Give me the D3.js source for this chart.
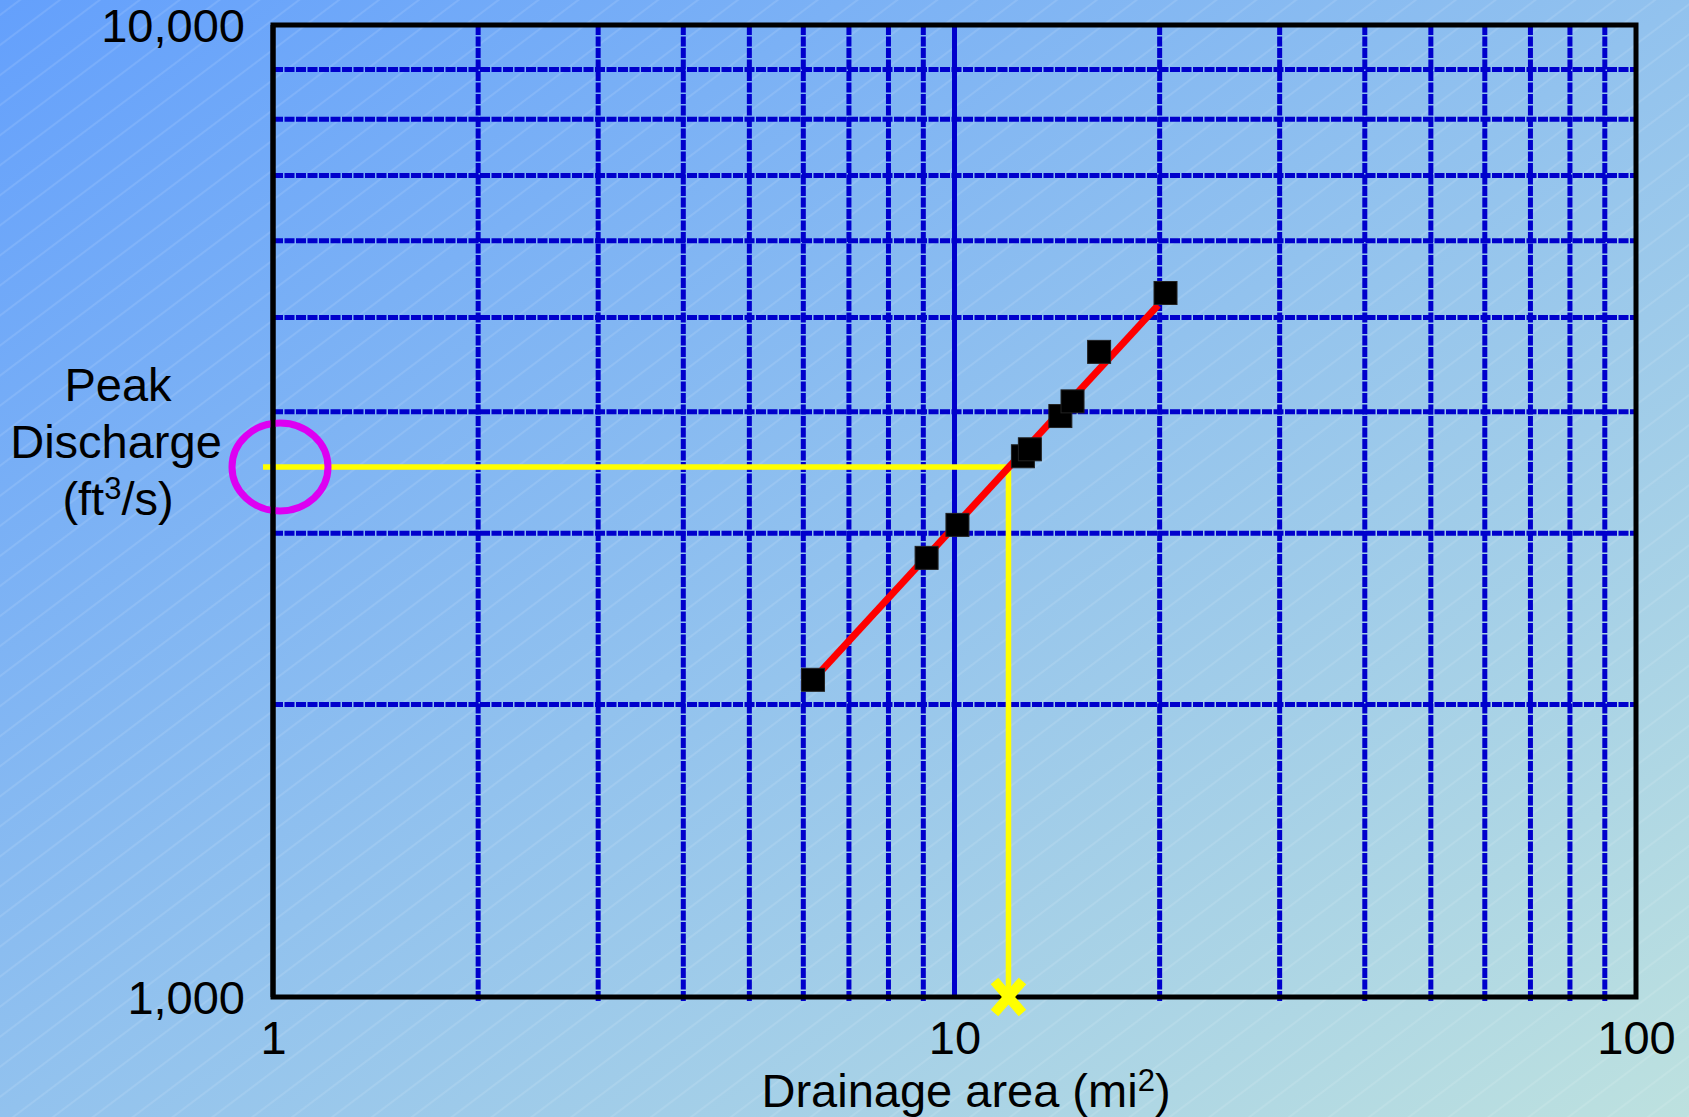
<!DOCTYPE html>
<html>
<head>
<meta charset="utf-8">
<script src="https://cdn.jsdelivr.net/npm/d3@7"></script>
<style>
  html, body { margin: 0; padding: 0; overflow: hidden; }
  svg { display: block; font-family: "Liberation Sans", Arial, sans-serif; }
</style>
</head>
<body>
<svg></svg>
<script>
const width = 1689;
const height = 1117;

// gauged stations: drainage area (mi2) and peak discharge (ft3/s)
const areas = [6.2, 9.1, 10.1, 12.6, 12.9, 14.3, 14.9, 16.3, 20.4];
const peaks = [2120, 2830, 3060, 3600, 3660, 3960, 4100, 4610, 5300];

// regression line ends
const fitAreas = [6.2, 19.9];
const fitPeaks = [2120, 5150];

// read-off for the ungauged site
const readArea = 12;
const readPeak = 3510;

const xTicks = [1, 10, 100];
const yTicks = [1000, 10000];
const xMinor = [2, 3, 4, 5, 6, 7, 8, 9, 20, 30, 40, 50, 60, 70, 80, 90];
const xMajor = [10];
const yMinor = [2000, 3000, 4000, 5000, 6000, 7000, 8000, 9000];

const svg = d3.select("svg")
  .attr("width", width)
  .attr("height", height);

const defs = svg.append("defs");

const grad = defs.append("linearGradient")
  .attr("id", "bg")
  .attr("x1", 0).attr("y1", 0)
  .attr("x2", 1).attr("y2", 1);
grad.append("stop").attr("offset", 0).attr("stop-color", "#64a0fc");
grad.append("stop").attr("offset", 0.5).attr("stop-color", "#92c2ee");
grad.append("stop").attr("offset", 1).attr("stop-color", "#bde1df");

const hatch = defs.append("pattern")
  .attr("id", "hatch")
  .attr("patternUnits", "userSpaceOnUse")
  .attr("width", 24)
  .attr("height", 24)
  .attr("patternTransform", "rotate(-37)");
hatch.append("line")
  .attr("x1", 0).attr("y1", 12)
  .attr("x2", 24).attr("y2", 12)
  .attr("stroke", "#ffffff")
  .attr("stroke-opacity", 0.22)
  .attr("stroke-width", 1);

svg.append("rect").attr("width", width).attr("height", height).attr("fill", "url(#bg)");
svg.append("rect").attr("width", width).attr("height", height).attr("fill", "url(#hatch)");

const x = d3.scaleLog().domain([1, 100]).range([273, 1636]);
const y = d3.scaleLog().domain([1000, 10000]).range([997, 25]);

const plotTop = y(10000), plotBottom = y(1000);
const plotLeft = x(1), plotRight = x(100);

// grid
const grid = svg.append("g").attr("stroke", "#0000cc").attr("stroke-width", 5);

grid.selectAll(".vx")
  .data(xMinor)
  .join("line")
  .attr("x1", d => x(d)).attr("x2", d => x(d))
  .attr("y1", plotTop).attr("y2", plotBottom + 5)
  .attr("stroke-dasharray", "10,1.5");

grid.selectAll(".vm")
  .data(xMajor)
  .join("line")
  .attr("x1", d => x(d)).attr("x2", d => x(d))
  .attr("y1", plotTop).attr("y2", plotBottom);

grid.selectAll(".hy")
  .data(yMinor)
  .join("line")
  .attr("x1", plotLeft).attr("x2", plotRight)
  .attr("y1", d => y(d)).attr("y2", d => y(d))
  .attr("stroke-dasharray", "10,1.5");

// yellow read-off lines
svg.append("path")
  .attr("d", d3.line()([
    [plotLeft - 10, y(readPeak)],
    [x(readArea), y(readPeak)],
    [x(readArea), plotBottom]
  ]))
  .attr("fill", "none")
  .attr("stroke", "#ffff00")
  .attr("stroke-width", 5.5);

// regression line
svg.append("path")
  .attr("d", d3.line()
    .x((d, i) => x(fitAreas[i]))
    .y((d, i) => y(fitPeaks[i]))(fitAreas))
  .attr("fill", "none")
  .attr("stroke", "#ff0000")
  .attr("stroke-width", 7);

// stations
svg.selectAll(".pt")
  .data(areas)
  .join("rect")
  .attr("x", d => x(d) - 11.5)
  .attr("y", (d, i) => y(peaks[i]) - 11.5)
  .attr("width", 23)
  .attr("height", 23)
  .attr("fill", "#000")
  .attr("stroke", "#222")
  .attr("stroke-width", 1);

// frame
svg.append("rect")
  .attr("x", plotLeft)
  .attr("y", plotTop)
  .attr("width", plotRight - plotLeft)
  .attr("height", plotBottom - plotTop)
  .attr("fill", "none")
  .attr("stroke", "#000")
  .attr("stroke-width", 5);

// magenta circle on the y axis
svg.append("ellipse")
  .attr("cx", plotLeft + 7)
  .attr("cy", y(readPeak))
  .attr("rx", 48)
  .attr("ry", 44)
  .attr("fill", "none")
  .attr("stroke", "#dd00f2")
  .attr("stroke-width", 7);

// redraw the axis line over the circle
svg.append("line")
  .attr("x1", plotLeft).attr("x2", plotLeft)
  .attr("y1", plotTop).attr("y2", plotBottom)
  .attr("stroke", "#000")
  .attr("stroke-width", 5);

// X marker at the answer
svg.append("path")
  .attr("transform", `translate(${x(readArea)},${plotBottom})`)
  .attr("d", "M-14,-16L14,16M14,-16L-14,16")
  .attr("stroke", "#ffff00")
  .attr("stroke-width", 10)
  .attr("fill", "none");

// axes
const xAxis = svg.append("g")
  .attr("transform", `translate(0,${plotBottom})`)
  .call(d3.axisBottom(x).tickValues(xTicks).tickSize(0).tickPadding(24).tickFormat(d3.format("d")));
const yAxis = svg.append("g")
  .attr("transform", `translate(${plotLeft},0)`)
  .call(d3.axisLeft(y).tickValues(yTicks).tickSize(0).tickPadding(28).tickFormat(d3.format(",")));

[xAxis, yAxis].forEach(a => {
  a.select(".domain").remove();
  a.selectAll("text")
    .attr("fill", "#000")
    .style("font-size", "47px")
    .style("font-family", "'Liberation Sans', Arial, sans-serif");
});
yAxis.selectAll("text").attr("dy", "0.36em");

// titles
const ttl = svg.append("g")
  .attr("fill", "#000")
  .attr("font-size", 47)
  .attr("text-anchor", "middle");

ttl.append("text").attr("x", 118).attr("y", 401).text("Peak");
ttl.append("text").attr("x", 116).attr("y", 458).text("Discharge");
const unitY = ttl.append("text").attr("x", 118).attr("y", 515);
unitY.append("tspan").text("(ft");
unitY.append("tspan").attr("font-size", 31).attr("dy", -16).text("3");
unitY.append("tspan").attr("dy", 16).text("/s)");

const xt = ttl.append("text").attr("x", 966).attr("y", 1107);
xt.append("tspan").text("Drainage area (mi");
xt.append("tspan").attr("font-size", 31).attr("dy", -16).text("2");
xt.append("tspan").attr("dy", 16).text(")");
</script>
</body>
</html>
